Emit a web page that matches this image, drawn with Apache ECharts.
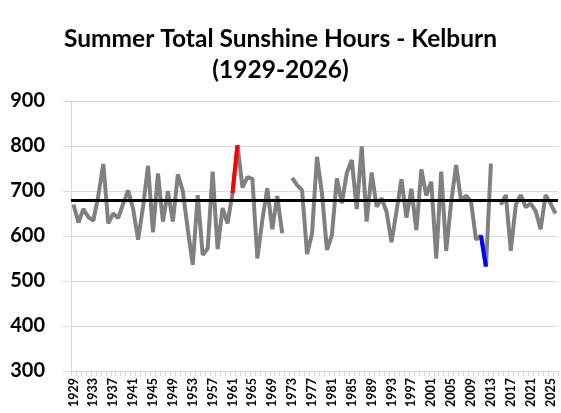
<!DOCTYPE html>
<html>
<head>
<meta charset="utf-8">
<script src="https://cdn.jsdelivr.net/npm/echarts@6/dist/echarts.min.js"></script>
<style>
  html, body { margin: 0; padding: 0; background: #fff; }
  #chart { width: 561px; height: 413px; }
</style>
</head>
<body>
<div id="chart"></div>
<script>
// years 1929..2026, summer sunshine hours
const years = [];
for (let y = 1929; y <= 2026; y++) years.push(String(y));

const hours = [
  670, 630, 660, 642, 634, 690, 760, 628, 650, 640,   // 1929-1938
  672, 701, 660, 592, 665, 756, 608, 739, 632, 700,   // 1939-1948
  632, 737, 700, 615, 536, 691, 558, 572, 743, 571,   // 1949-1958
  662, 628, 695, 802, 708, 731, 727, 550, 635, 706,   // 1959-1968
  615, 689, 606, null, 729, 713, 702, 560, 605, 776,  // 1969-1978
  695, 569, 602, 728, 673, 740, 769, 660, 799, 632,   // 1979-1988
  741, 665, 684, 654, 586, 655, 726, 641, 705, 613,   // 1989-1998
  748, 690, 721, 550, 743, 567, 675, 758, 678, 690,   // 1999-2008
  676, 592, 601, 532, 761, null, 669, 691, 567, 669,  // 2009-2018
  691, 664, 672, 656, 615, 691, 672, 650              // 2019-2026
];

const averageHours = 679;
const redYears = ['1961', '1962'];
const blueYears = ['2011', '2012'];
const yTicks = [300, 400, 500, 600, 700, 800, 900];

function pick(list) {
  return years.map((y, i) => list.indexOf(y) >= 0 ? hours[i] : null);
}

let mychart = echarts.init(document.getElementById('chart'));
mychart.setOption({
  animation: false,
  title: {
    text: 'Summer Total Sunshine Hours - Kelburn\n(1929-2026)',
    left: 'center',
    top: 19,
    textStyle: {
      fontFamily: 'Lato',
      fontWeight: 'bold',
      fontSize: 24.5,
      lineHeight: 31,
      color: '#000'
    }
  },
  grid: { left: 71, right: 3, top: 101, bottom: 42 },
  xAxis: {
    type: 'category',
    data: years,
    boundaryGap: true,
    axisLine: { lineStyle: { color: '#d9d9d9' } },
    axisTick: { show: true, interval: 0, length: 5, lineStyle: { color: '#d9d9d9' } },
    axisLabel: {
      interval: 3,
      rotate: 90,
      margin: 7,
      color: '#000',
      fontFamily: 'Lato',
      fontWeight: 'bold',
      fontSize: 12.5
    },
    splitLine: { show: false }
  },
  yAxis: {
    type: 'value',
    min: yTicks[0],
    max: yTicks[yTicks.length - 1],
    interval: 100,
    axisLine: { show: true, lineStyle: { color: '#d9d9d9' } },
    axisTick: { show: true, length: 8, lineStyle: { color: '#d9d9d9' } },
    axisLabel: {
      margin: 26,
      color: '#000',
      fontFamily: 'Lato',
      fontWeight: 'bold',
      fontSize: 20
    },
    splitLine: { lineStyle: { color: '#d9d9d9' } }
  },
  series: [
    {
      name: 'Sunshine hours',
      type: 'line',
      data: hours,
      symbol: 'none',
      connectNulls: false,
      lineStyle: { color: '#808080', width: 4 },
      z: 2,
      markLine: {
        silent: true,
        symbol: 'none',
        label: { show: false },
        lineStyle: { color: '#000', width: 3, type: 'solid' },
        data: [{ yAxis: averageHours }]
      }
    },
    {
      name: 'red',
      type: 'line',
      data: pick(redYears),
      symbol: 'none',
      lineStyle: { color: '#ff0000', width: 4 },
      z: 3
    },
    {
      name: 'blue',
      type: 'line',
      data: pick(blueYears),
      symbol: 'none',
      lineStyle: { color: '#0000ff', width: 4 },
      z: 3
    }
  ]
});
</script>
</body>
</html>
